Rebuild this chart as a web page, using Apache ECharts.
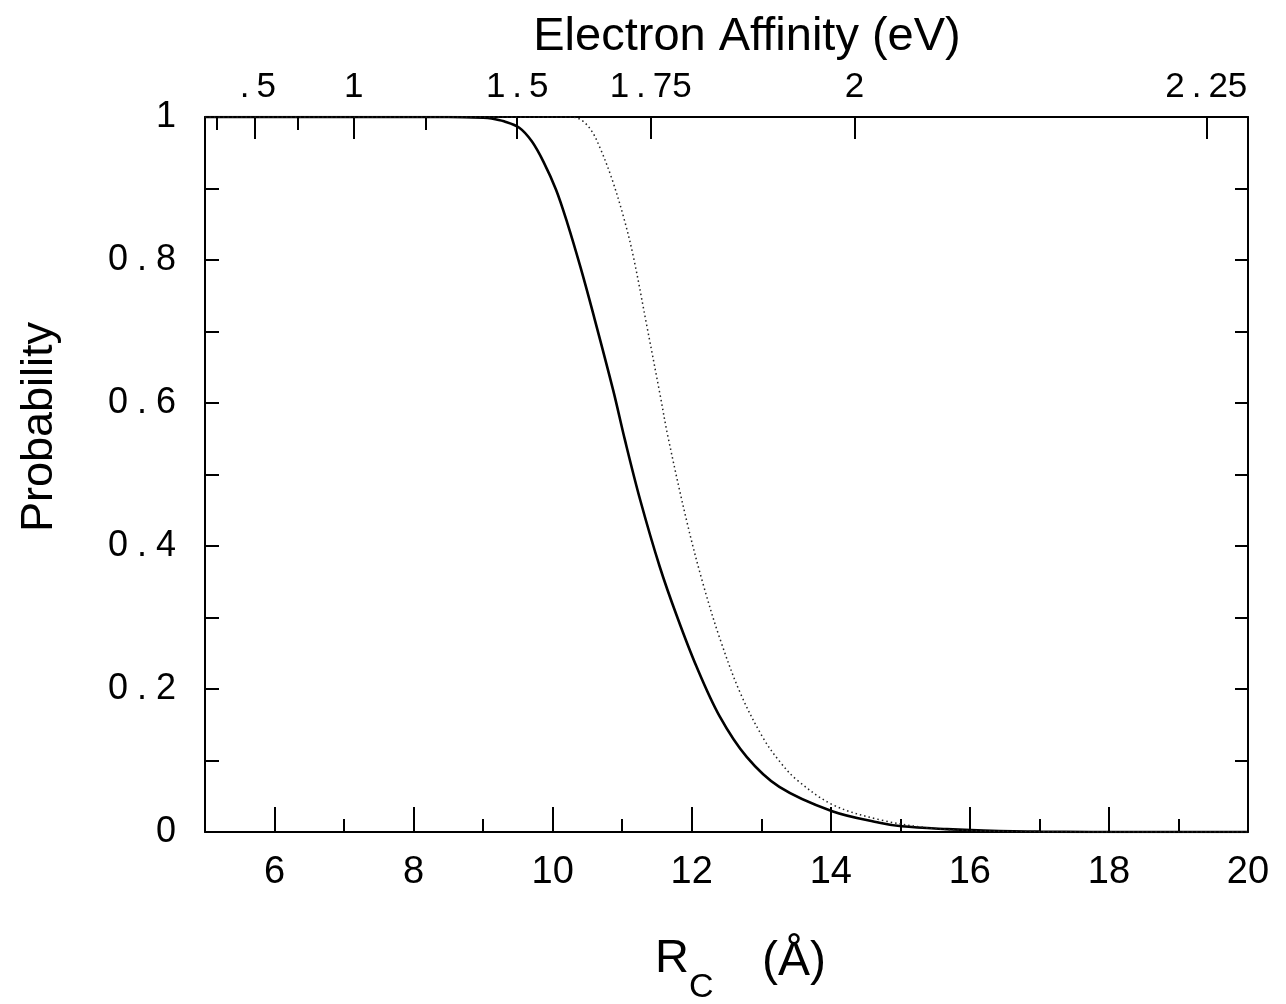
<!DOCTYPE html>
<html>
<head>
<meta charset="utf-8">
<script src="https://cdn.jsdelivr.net/npm/echarts@6/dist/echarts.min.js"></script>
<style>
  html, body { margin: 0; padding: 0; background: #fff; }
  #chart { width: 1286px; height: 1004px; }
</style>
</head>
<body>
<div id="chart"></div>
<script>
// Rc (Angstrom) vs probability, solid curve
const rcSolid = [5, 7, 8.5, 9.0, 9.12, 9.3, 9.52, 9.7, 9.87, 10.05, 10.21, 10.4, 10.58, 10.87, 11.04, 11.26, 11.54, 11.79, 12.07, 12.4, 12.79, 13.26, 14.02, 14.7, 15.02, 15.67, 16.2, 17, 18.5, 20];
const pSolid = [1, 1, 1, 0.999, 0.998, 0.994, 0.985, 0.966, 0.937, 0.898, 0.852, 0.79, 0.726, 0.618, 0.548, 0.464, 0.371, 0.301, 0.231, 0.162, 0.105, 0.063, 0.029, 0.013, 0.008, 0.004, 0.002, 0.0005, 0, 0];

// dotted curve
const rcDotted = [5, 7, 9, 10.2, 10.39, 10.55, 10.68, 10.85, 11.02, 11.16, 11.35, 11.54, 11.66, 11.93, 12.16, 12.41, 12.7, 13.03, 13.27, 13.51, 14.03, 14.71, 15.38, 16.0, 17, 18.5, 20];
const pDotted = [1, 1, 1, 1, 0.997, 0.982, 0.957, 0.914, 0.86, 0.805, 0.71, 0.614, 0.552, 0.434, 0.348, 0.269, 0.194, 0.131, 0.098, 0.073, 0.038, 0.017, 0.006, 0.002, 0.0005, 0, 0];

// bottom axis ticks
const rcMajorTicks = [6, 8, 10, 12, 14, 16, 18, 20];
const rcMinorTicks = [7, 9, 11, 13, 15, 17, 19];

// top axis: electron affinity ticks placed at their Rc position
const eaLabels = ['.5', '1', '1.5', '1.75', '2', '2.25'];
const eaMajorRc = [5.71, 7.14, 9.49, 11.41, 14.34, 19.40];
const eaMinorRc = [5.17, 6.33, 8.17];

// left axis
const pLabels = [0, 0.2, 0.4, 0.6, 0.8, 1];

const FONT = '"Liberation Sans", Arial, Helvetica, sans-serif';
const toPairs = (xs, ys) => xs.map((x, i) => [x, ys[i]]);

// spread the decimal point like the original typesetting
const spaced = (s) => {
  const k = s.indexOf('.');
  if (k < 0) return '{n|' + s + '}';
  const head = s.slice(0, k), tail = s.slice(k + 1);
  return (head ? '{n|' + head + '}' : '') + '{d|.}' + '{n|' + tail + '}';
};

const chart = echarts.init(document.getElementById('chart'));

const tickStyle = { color: '#000', width: 2 };
const baseX = {
  type: 'value', min: 5, max: 20,
  splitLine: { show: false },
  axisLine: { show: false, onZero: false },
  axisLabel: { show: false },
  axisTick: { show: false }
};

const option = {
  backgroundColor: '#fff',
  animation: false,
  grid: { left: 205, right: 38, top: 117, bottom: 172 },
  xAxis: [
    Object.assign({}, baseX, {
      position: 'bottom',
      axisLine: { show: true, onZero: false, lineStyle: { color: '#000', width: 2 } },
      axisTick: { show: true, inside: true, length: 25, customValues: rcMajorTicks, lineStyle: tickStyle },
      axisLabel: { show: true, customValues: rcMajorTicks, margin: 22, color: '#000', fontSize: 38, fontFamily: FONT }
    }),
    Object.assign({}, baseX, {
      position: 'bottom',
      axisTick: { show: true, inside: true, length: 13, customValues: rcMinorTicks, lineStyle: tickStyle }
    }),
    Object.assign({}, baseX, {
      position: 'top',
      axisLine: { show: true, onZero: false, lineStyle: { color: '#000', width: 2 } },
      axisTick: { show: true, inside: true, length: 22, customValues: eaMajorRc, lineStyle: tickStyle },
      axisLabel: {
        show: true, customValues: eaMajorRc, margin: 12, color: '#000', fontFamily: FONT,
        rich: {
          n: { fontSize: 35, fontFamily: FONT, color: '#000' },
          d: { fontSize: 35, fontFamily: FONT, color: '#000', padding: [0, 7, 0, 7] }
        },
        formatter: (v) => {
          const i = eaMajorRc.findIndex(r => Math.abs(r - v) < 1e-6);
          return i >= 0 ? spaced(eaLabels[i]) : '';
        }
      }
    }),
    Object.assign({}, baseX, {
      position: 'top',
      axisTick: { show: true, inside: true, length: 13, customValues: eaMinorRc, lineStyle: tickStyle }
    })
  ],
  yAxis: [
    {
      type: 'value', min: 0, max: 1, interval: 0.1, position: 'left',
      splitLine: { show: false },
      axisLine: { show: true, onZero: false, lineStyle: { color: '#000', width: 2 } },
      axisTick: { show: true, inside: true, length: 14, lineStyle: tickStyle },
      axisLabel: {
        show: true, customValues: pLabels, margin: 29, color: '#000', fontFamily: FONT,
        rich: {
          n: { fontSize: 36, fontFamily: FONT, color: '#000' },
          d: { fontSize: 36, fontFamily: FONT, color: '#000', padding: [0, 9, 0, 9] }
        },
        formatter: (v) => spaced((v === 0 || v === 1) ? String(v) : v.toFixed(1))
      }
    },
    {
      type: 'value', min: 0, max: 1, interval: 0.1, position: 'right',
      splitLine: { show: false },
      axisLine: { show: true, onZero: false, lineStyle: { color: '#000', width: 2 } },
      axisTick: { show: true, inside: true, length: 13, lineStyle: tickStyle },
      axisLabel: { show: false }
    }
  ],
  series: [
    {
      type: 'line', xAxisIndex: 0, yAxisIndex: 0,
      data: toPairs(rcSolid, pSolid),
      smooth: 0.35, showSymbol: false,
      lineStyle: { color: '#000', width: 2.6 }
    },
    {
      type: 'line', xAxisIndex: 0, yAxisIndex: 0,
      data: toPairs(rcDotted, pDotted),
      smooth: 0.35, showSymbol: false,
      lineStyle: { color: '#222', width: 1.5, type: [1.5, 3] }
    }
  ],
  graphic: [
    {
      type: 'text', x: 747, y: 37,
      style: { text: 'Electron Affinity (eV)', font: '47px ' + FONT, fill: '#000', textAlign: 'center', textVerticalAlign: 'middle' }
    },
    {
      type: 'text', x: 40, y: 427, rotation: Math.PI / 2,
      style: { text: 'Probability', font: '45px ' + FONT, fill: '#000', textAlign: 'center', textVerticalAlign: 'middle' }
    },
    {
      type: 'text', x: 655, y: 959,
      style: { text: 'R', font: '47px ' + FONT, fill: '#000', textAlign: 'left', textVerticalAlign: 'middle' }
    },
    {
      type: 'text', x: 689, y: 988,
      style: { text: 'C', font: '34px ' + FONT, fill: '#000', textAlign: 'left', textVerticalAlign: 'middle' }
    },
    {
      type: 'text', x: 762, y: 962,
      style: { text: '(Å)', font: '48px ' + FONT, fill: '#000', textAlign: 'left', textVerticalAlign: 'middle' }
    }
  ]
};

chart.setOption(option);
window.addEventListener('resize', () => chart.resize());
</script>
</body>
</html>
